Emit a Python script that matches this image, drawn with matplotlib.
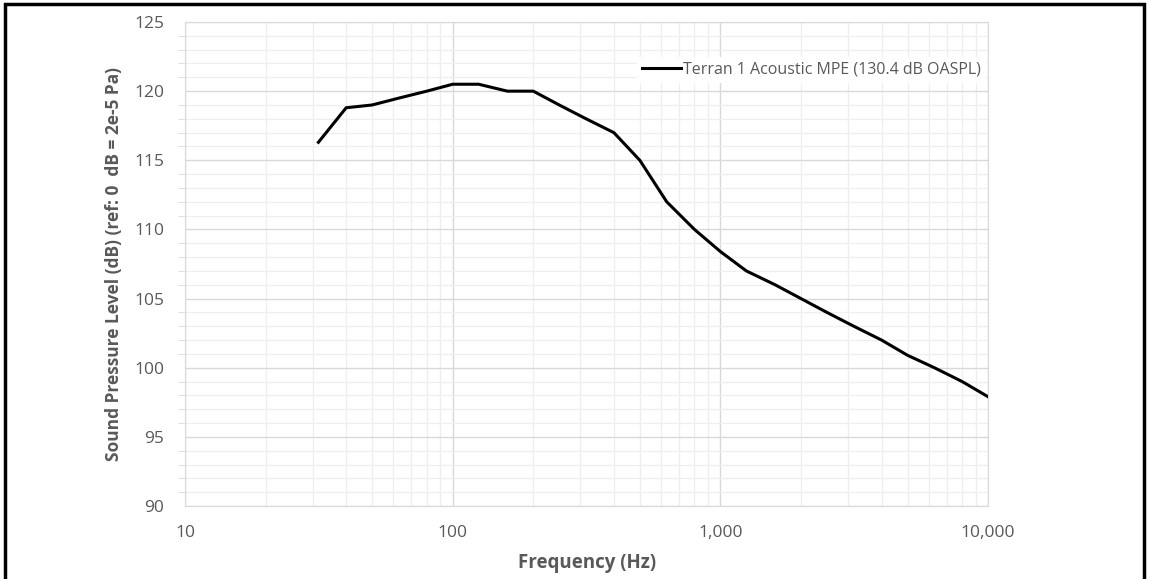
import numpy as np
import matplotlib.pyplot as plt
from matplotlib.patches import Rectangle
from matplotlib.ticker import FixedLocator, FuncFormatter, NullFormatter

# third-octave band centres (Hz) and sound pressure level (dB)
freq = [31.5, 40, 50, 63, 80, 100, 125, 160, 200, 250, 315, 400, 500, 630,
        800, 1000, 1250, 1600, 2000, 2500, 3150, 4000, 5000, 6300, 8000, 10000]
spl = [116.3, 118.8, 119.0, 119.5, 120.0, 120.5, 120.5, 120.0, 120.0, 119.0,
       118.0, 117.0, 115.0, 112.0, 110.0, 108.4, 107.0, 106.0, 105.0, 104.0,
       103.0, 102.0, 100.9, 100.0, 99.0, 97.9]
series_label = 'Terran 1 Acoustic MPE (130.4 dB OASPL)'

plt.rcParams['font.family'] = ['Open Sans', 'DejaVu Sans']
grey = '#595959'

fig = plt.figure(figsize=(11.49, 5.79), dpi=100)
ax = fig.add_axes([0.161, 0.126, 0.699, 0.836])

ax.plot(freq, spl, color='black', lw=2.2, label=series_label)

ax.set_xscale('log')
ax.set_xlim(10, 10000)
ax.set_ylim(90, 125)
ax.set_xticks([10, 100, 1000, 10000])
ax.xaxis.set_major_formatter(FuncFormatter(lambda v, p: f'{v:,.0f}'))
ax.xaxis.set_minor_formatter(NullFormatter())
ax.set_yticks(np.arange(90, 126, 5))
ax.yaxis.set_minor_locator(FixedLocator(np.arange(90, 126, 1)))

ax.grid(which='major', color='#d9d9d9', lw=1.0)
ax.grid(which='minor', color='#efefef', lw=0.9)
ax.set_axisbelow(True)

ax.tick_params(axis='x', which='both', length=0, labelsize=12.5, labelcolor=grey, pad=14)
ax.tick_params(axis='y', which='major', length=0, labelsize=12.5, labelcolor=grey, pad=15)
ax.tick_params(axis='y', which='minor', length=5, color='#d9d9d9', direction='out')

for s in ax.spines.values():
    s.set_color('#d9d9d9')

ax.set_xlabel('Frequency (Hz)', fontsize=13.5, fontweight='bold', color=grey, labelpad=8)
ax.set_ylabel('Sound Pressure Level (dB) (ref: 0  dB = 2e-5 Pa)', fontsize=12.5,
              fontweight='bold', color=grey, labelpad=8)

leg = ax.legend(loc='center right', bbox_to_anchor=(0.997, 0.901), frameon=True,
                fontsize=11.5, handlelength=2.5, handletextpad=0.1, borderaxespad=0,
                borderpad=0.3)
leg.get_frame().set_edgecolor('none')
leg.get_frame().set_facecolor('white')
leg.get_frame().set_alpha(1)
for t in leg.get_texts():
    t.set_color(grey)

# outer black border
fig.patches.append(Rectangle((0.004, -0.01), 0.992, 1.003, transform=fig.transFigure,
                             fill=False, edgecolor='black', lw=2.5))

fig.savefig('out.png', dpi=100)
